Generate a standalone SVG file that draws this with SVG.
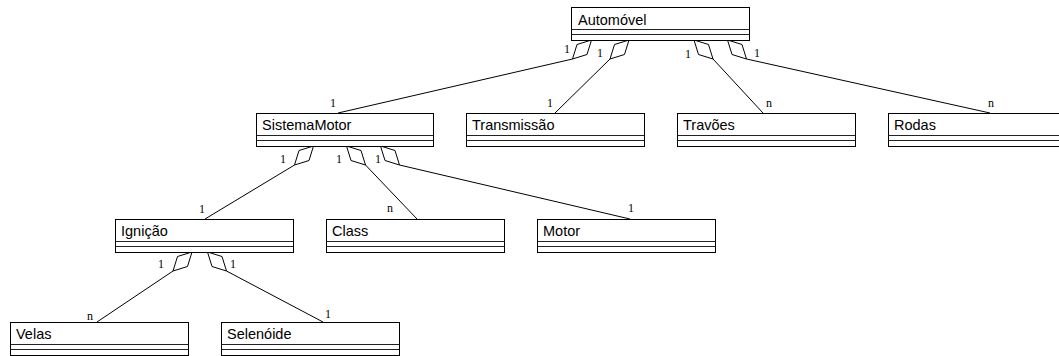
<svg xmlns="http://www.w3.org/2000/svg" xmlns:xlink="http://www.w3.org/1999/xlink" width="1059" height="356" viewBox="0 0 1059 356">
<style>
.box{fill:#fff;stroke:#000;stroke-width:1}
.sep{stroke:#222;stroke-width:1}
.name{font-family:"Liberation Sans",Arial,sans-serif;font-size:14.5px;fill:#000}
.lbl{font-family:"Liberation Serif","Times New Roman",serif;font-size:12px;fill:#000}
.conn line{stroke:#000;stroke-width:1;fill:none}
.dia{fill:#fff;stroke:#000;stroke-width:1}
</style>
<defs>
<path id="dl" class="dia" d="M0,0 L-14.5,4.5 L-19,19 L-4.5,14.5 Z"/>
<path id="dr" class="dia" d="M0,0 L14.5,4.5 L19,19 L4.5,14.5 Z"/>
</defs>
<rect width="1059" height="356" fill="#fff"/>

<g id="connectors" class="conn">
<line x1="572.5" y1="59" x2="338" y2="113"/>
<line x1="610" y1="59" x2="555" y2="113"/>
<line x1="713" y1="59" x2="763" y2="113"/>
<line x1="746.5" y1="59" x2="990" y2="113"/>
<line x1="294.5" y1="165" x2="205" y2="219"/>
<line x1="365.5" y1="165" x2="417" y2="219"/>
<line x1="399.5" y1="165" x2="630" y2="219"/>
<line x1="173" y1="271" x2="97" y2="322"/>
<line x1="226.5" y1="271" x2="323" y2="322"/>
<use href="#dl" x="591.5" y="40"/>
<use href="#dl" x="629" y="40"/>
<use href="#dr" x="694" y="40"/>
<use href="#dr" x="727.5" y="40"/>
<use href="#dl" x="313.5" y="146"/>
<use href="#dr" x="346.5" y="146"/>
<use href="#dr" x="380.5" y="146"/>
<use href="#dl" x="192" y="252"/>
<use href="#dr" x="207.5" y="252"/>
<text class="lbl" x="564" y="53">1</text>
<text class="lbl" x="597" y="57">1</text>
<text class="lbl" x="685" y="58">1</text>
<text class="lbl" x="754" y="57">1</text>
<text class="lbl" x="330" y="107">1</text>
<text class="lbl" x="547" y="107">1</text>
<text class="lbl" x="766" y="107">n</text>
<text class="lbl" x="988" y="107">n</text>
<text class="lbl" x="280" y="163">1</text>
<text class="lbl" x="336" y="163">1</text>
<text class="lbl" x="375" y="163">1</text>
<text class="lbl" x="199" y="213">1</text>
<text class="lbl" x="387" y="212">n</text>
<text class="lbl" x="628" y="212">1</text>
<text class="lbl" x="158" y="268">1</text>
<text class="lbl" x="230" y="268">1</text>
<text class="lbl" x="87" y="320">n</text>
<text class="lbl" x="325" y="318">1</text>
</g>

<g id="automovel">
<rect class="box" x="571.5" y="7.5" width="178" height="33"/>
<line class="sep" x1="571.5" y1="29.5" x2="749.5" y2="29.5"/>
<line class="sep" x1="571.5" y1="34.5" x2="749.5" y2="34.5"/>
<text class="name" x="578" y="25">Automóvel</text>
</g>

<g id="sistemamotor">
<rect class="box" x="256.5" y="113.5" width="177" height="33"/>
<line class="sep" x1="256.5" y1="135.5" x2="433.5" y2="135.5"/>
<line class="sep" x1="256.5" y1="140.5" x2="433.5" y2="140.5"/>
<text class="name" x="262" y="130">SistemaMotor</text>
</g>

<g id="transmissao">
<rect class="box" x="466.5" y="113.5" width="178" height="33"/>
<line class="sep" x1="466.5" y1="135.5" x2="644.5" y2="135.5"/>
<line class="sep" x1="466.5" y1="140.5" x2="644.5" y2="140.5"/>
<text class="name" x="472" y="130">Transmissão</text>
</g>

<g id="travoes">
<rect class="box" x="677.5" y="113.5" width="178" height="33"/>
<line class="sep" x1="677.5" y1="135.5" x2="855.5" y2="135.5"/>
<line class="sep" x1="677.5" y1="140.5" x2="855.5" y2="140.5"/>
<text class="name" x="683" y="130">Travões</text>
</g>

<g id="rodas">
<rect class="box" x="888.5" y="113.5" width="178" height="33"/>
<line class="sep" x1="888.5" y1="135.5" x2="1066.5" y2="135.5"/>
<line class="sep" x1="888.5" y1="140.5" x2="1066.5" y2="140.5"/>
<text class="name" x="894" y="130">Rodas</text>
</g>

<g id="ignicao">
<rect class="box" x="115.5" y="219.5" width="178" height="33"/>
<line class="sep" x1="115.5" y1="241.5" x2="293.5" y2="241.5"/>
<line class="sep" x1="115.5" y1="246.5" x2="293.5" y2="246.5"/>
<text class="name" x="121" y="236">Ignição</text>
</g>

<g id="class">
<rect class="box" x="326.5" y="219.5" width="178" height="33"/>
<line class="sep" x1="326.5" y1="241.5" x2="504.5" y2="241.5"/>
<line class="sep" x1="326.5" y1="246.5" x2="504.5" y2="246.5"/>
<text class="name" x="332" y="236">Class</text>
</g>

<g id="motor">
<rect class="box" x="537.5" y="219.5" width="178" height="33"/>
<line class="sep" x1="537.5" y1="241.5" x2="715.5" y2="241.5"/>
<line class="sep" x1="537.5" y1="246.5" x2="715.5" y2="246.5"/>
<text class="name" x="543" y="236">Motor</text>
</g>

<g id="velas">
<rect class="box" x="10.5" y="322.5" width="178" height="33"/>
<line class="sep" x1="10.5" y1="344.5" x2="188.5" y2="344.5"/>
<line class="sep" x1="10.5" y1="349.5" x2="188.5" y2="349.5"/>
<text class="name" x="16" y="339">Velas</text>
</g>

<g id="selenoide">
<rect class="box" x="221.5" y="322.5" width="178" height="33"/>
<line class="sep" x1="221.5" y1="344.5" x2="399.5" y2="344.5"/>
<line class="sep" x1="221.5" y1="349.5" x2="399.5" y2="349.5"/>
<text class="name" x="227" y="339">Selenóide</text>
</g>
</svg>
